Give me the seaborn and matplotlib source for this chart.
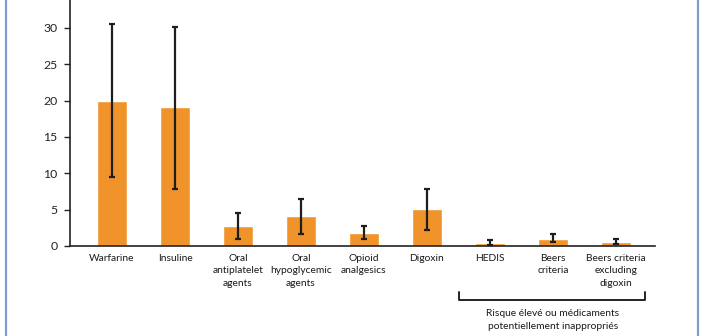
import matplotlib
matplotlib.use("Agg")
import matplotlib.pyplot as plt
import seaborn as sns
import pandas as pd
from matplotlib.lines import Line2D

# Drug classes and their rates with confidence limits
categories = [
    "Warfarine", "Insuline", "Oral\nantiplatelet\nagents",
    "Oral\nhypoglycemic\nagents", "Opioid\nanalgesics", "Digoxin",
    "HEDIS", "Beers\ncriteria", "Beers criteria\nexcluding\ndigoxin",
]
values = [20.0, 19.1, 2.7, 4.1, 1.85, 5.05, 0.35, 1.0, 0.5]
lower = [9.45, 7.9, 1.0, 1.6, 1.0, 2.2, 0.08, 0.5, 0.33]
upper = [30.6, 30.2, 4.6, 6.5, 2.7, 7.9, 0.8, 1.6, 0.98]
yticks = [0, 5, 10, 15, 20, 25, 30]
group_label = "Risque élevé ou médicaments\npotentiellement inappropriés"

df = pd.DataFrame({"category": categories, "value": values})

sns.set_theme(style="white")
plt.rcParams["font.family"] = ["Lato", "DejaVu Sans"]

fig = plt.figure(figsize=(7.02, 3.36), dpi=100)
ax = fig.add_axes([70 / 702, 90 / 336, 585 / 702, 246 / 336])

sns.barplot(data=df, x="category", y="value", color="#F0932B",
            saturation=1, width=0.49, ax=ax)

# asymmetric error bars (lower / upper limits)
xs = list(range(len(categories)))
err = [[v - lo for v, lo in zip(values, lower)],
       [up - v for v, up in zip(values, upper)]]
ax.errorbar(xs, values, yerr=err, fmt="none", ecolor="#1e1e1e",
            elinewidth=1.6, capsize=2.2, capthick=1.6, zorder=3)

ax.set_xlim(-0.667, 8.62)
ax.set_ylim(0, 33.85)
ax.set_yticks(yticks)
ax.set_xlabel("")
ax.set_ylabel("")
for s in ["top", "right"]:
    ax.spines[s].set_visible(False)
for s in ["left", "bottom"]:
    ax.spines[s].set_color("#222222")
    ax.spines[s].set_linewidth(1.2)
ax.tick_params(axis="y", direction="out", length=4, width=1, color="#222222",
               labelsize=8.8, labelcolor="#222222", pad=5, left=True)
ax.tick_params(axis="x", length=0, labelsize=7.4, labelcolor="#1a1a1a", pad=6)
for lab in ax.get_xticklabels():
    lab.set_linespacing(1.45)
    lab.set_horizontalalignment("center")

# bracket grouping the risk criteria
bx0, bx1, by, bh = 459 / 702, 644.5 / 702, 1 - 300 / 336, 8 / 336
fig.add_artist(Line2D([bx0, bx0, bx1, bx1], [by + bh, by, by, by + bh],
                      transform=fig.transFigure, color="#222222", lw=1.4))
fig.text(553 / 702, 1 - 308.5 / 336, group_label, ha="center", va="top",
         fontsize=7.4, color="#1a1a1a", linespacing=1.6)

# page frame rules on both sides
for xf in (5.5 / 702, 697.5 / 702):
    fig.add_artist(Line2D([xf, xf], [0, 1], transform=fig.transFigure,
                          color="#7b9fc8", lw=1.6))

fig.savefig("out.png", dpi=100)
